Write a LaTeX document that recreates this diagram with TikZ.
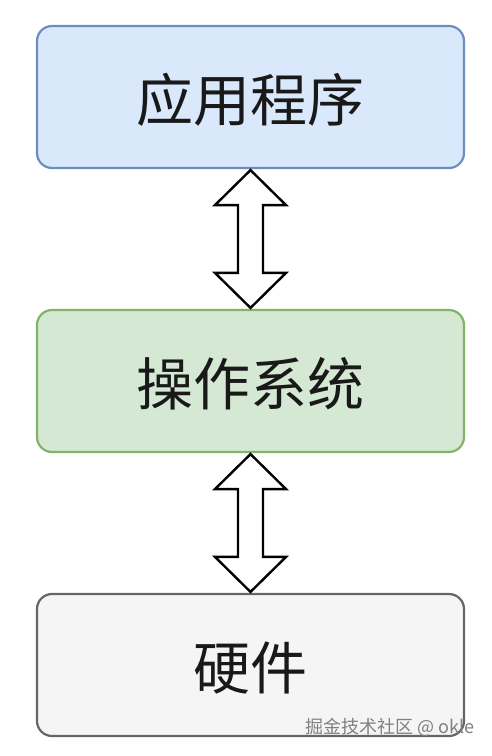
\documentclass[tikz,border=0pt]{standalone}
\usepackage{fontspec}
\setmainfont{Noto Sans CJK SC}
\usetikzlibrary{calc}
\begin{document}
\begin{tikzpicture}[x=1pt,y=-1pt,
  box/.style={draw, line width=2.2pt, rounded corners=15pt, minimum width=427pt, minimum height=142pt, inner sep=0pt},
  lbl/.style={font=\fontsize{57}{62}\selectfont, text=black!90, inner sep=0pt},
  dblarrow/.style={draw=black, line width=2.4pt, fill=white, line join=miter}]
\useasboundingbox (0,0) rectangle (492,756);
\node[box, draw={rgb,255:red,108;green,142;blue,191}, fill={rgb,255:red,218;green,232;blue,252}] (app) at (250.5,97) {};
\node[box, draw={rgb,255:red,130;green,179;blue,102}, fill={rgb,255:red,213;green,232;blue,212}] (os) at (250.5,381) {};
\node[box, draw={rgb,255:red,102;green,102;blue,102}, fill={rgb,255:red,245;green,245;blue,245}] (hw) at (250.5,665) {};
\node[lbl] (appl) at ($(app.center)+(0,3)$) {应用程序};
\node[lbl] (osl) at ($(os.center)+(0,3)$) {操作系统};
\node[lbl] (hwl) at ($(hw.center)+(0,3)$) {硬件};
\newcommand{\dblarr}[2]{%
  \draw[dblarrow] ($(#1.south)+(0,1)$) -- ++(35.5,35) -- ++(-23,0) -- ($($(#2.north)+(0,-1)$)+(12.5,-35)$) -- ++(23,0) -- ($(#2.north)+(0,-1)$) -- ++(-35.5,-35) -- ++(23,0) -- ($($(#1.south)+(0,1)$)+(-12.5,35)$) -- ++(-23,0) -- cycle;}
\dblarr{app}{os}
\dblarr{os}{hw}
\node[anchor=east, text=black!50, font=\fontsize{18}{20}\selectfont, inner sep=0pt] (wm) at (475,727) {掘金技术社区 @ okle};
\end{tikzpicture}
\end{document}
